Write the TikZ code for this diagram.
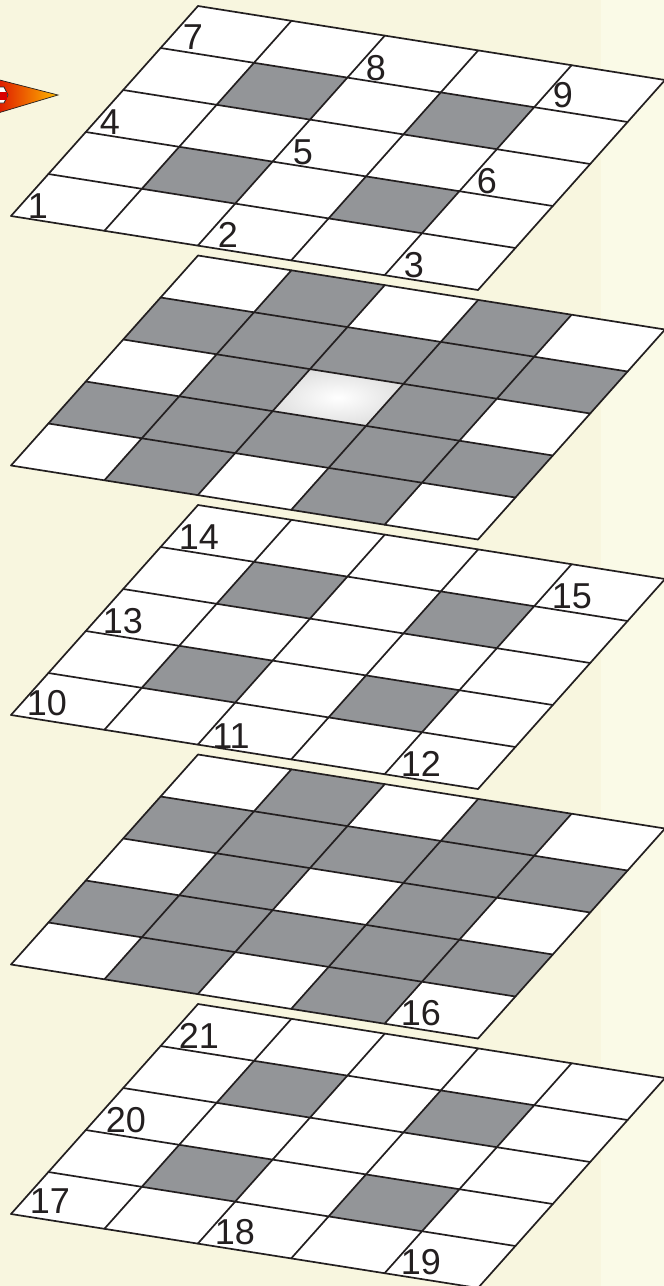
\documentclass[tikz,border=0pt]{standalone}
\usepackage{fontspec}
\setmainfont{Liberation Sans}
\definecolor{paper}{HTML}{F8F6DF}
\definecolor{paperedge}{HTML}{FAFAE7}
\definecolor{cellgrey}{HTML}{939598}
\definecolor{inkline}{HTML}{231F20}
\tikzset{
  x=1pt, y=1pt,
  gridline/.style={draw=inkline, line width=1.7pt, line cap=round},
  greycell/.style={fill=cellgrey},
  num/.style={inner sep=0pt, text=inkline, font=\fontsize{36}{36}\selectfont},
  plate/.style={shift={(11,#1)}, x={(93.4pt,-14.8pt)}, y={(37.4pt,42pt)}}
}
% one plate: white sheet, listed grey cells
\newcommand{\plategrid}[2]{
  \begin{scope}[plate=#1]
    \fill[white] (0,0) -- (5,0) -- (5,5) -- (0,5) -- cycle;
    \foreach \i/\j in {#2} {
      \fill[greycell] (\i,\j) -- ++(1,0) -- ++(0,1) -- ++(-1,0) -- cycle;
    }
  \end{scope}
}
\newcommand{\platelines}[1]{
  \begin{scope}[plate=#1]
    \foreach \i in {0,...,5} {
      \draw[gridline] (\i,0) -- (\i,5);
      \draw[gridline] (0,\i) -- (5,\i);
    }
  \end{scope}
}
\begin{document}
\begin{tikzpicture}
  \useasboundingbox (0,0) rectangle (664,-1286);
  \clip (0,0) rectangle (664,-1286);
  \fill[paper] (0,0) rectangle (601,-1286);
  \fill[paperedge] (601,0) rectangle (664,-1286);

  % pointer at the left edge
  \shade[left color=red!85!black, right color=orange!55!yellow, draw=inkline, line width=0.7pt]
    (-12,-77) -- (58,-95) -- (-12,-116) -- cycle;
  \fill[white, draw=inkline, line width=0.7pt] (-5,-87) -- (4,-87) -- (8,-95) -- (4,-103) -- (-5,-103) -- cycle;
  \fill[red!85!black] (-5,-92) rectangle (7,-100);

  % plates, top to bottom
  \plategrid{-216}{1/1,3/1,1/3,3/3}
  \plategrid{-465.5}{1/0,3/0,0/1,1/1,2/1,3/1,4/1,1/2,3/2,0/3,1/3,2/3,3/3,4/3,1/4,3/4}
  \begin{scope}[plate=-465.5]
    \shade[inner color=white, outer color=black!12] (2,2) -- (3,2) -- (3,3) -- (2,3) -- cycle;
  \end{scope}
  \plategrid{-715}{1/1,3/1,1/3,3/3}
  \plategrid{-964.5}{1/0,3/0,0/1,1/1,2/1,3/1,4/1,1/2,3/2,0/3,1/3,2/3,3/3,4/3,1/4,3/4}
  \plategrid{-1214}{1/1,3/1,1/3,3/3}
  \foreach \py in {-216,-465.5,-715,-964.5,-1214} {
    \platelines{\py}
  }

  \node[num] (n1) at (38,-206) {1};
  \node[num] (n2) at (228,-235) {2};
  \node[num] (n3) at (414,-265) {3};
  \node[num] (n4) at (110,-122) {4};
  \node[num] (n5) at (303,-152) {5};
  \node[num] (n6) at (487,-181) {6};
  \node[num] (n7) at (193,-37) {7};
  \node[num] (n8) at (376,-68) {8};
  \node[num] (n9) at (563,-95) {9};
  \node[num] (n10) at (47,-703) {10};
  \node[num] (n11) at (231,-736) {11};
  \node[num] (n12) at (421,-764) {12};
  \node[num] (n13) at (123,-621) {13};
  \node[num] (n14) at (199,-537) {14};
  \node[num] (n15) at (572,-596) {15};
  \node[num] (n16) at (421,-1013) {16};
  \node[num] (n17) at (50,-1201) {17};
  \node[num] (n18) at (235,-1232) {18};
  \node[num] (n19) at (421,-1262) {19};
  \node[num] (n20) at (126,-1120) {20};
  \node[num] (n21) at (199,-1036) {21};
\end{tikzpicture}
\end{document}
